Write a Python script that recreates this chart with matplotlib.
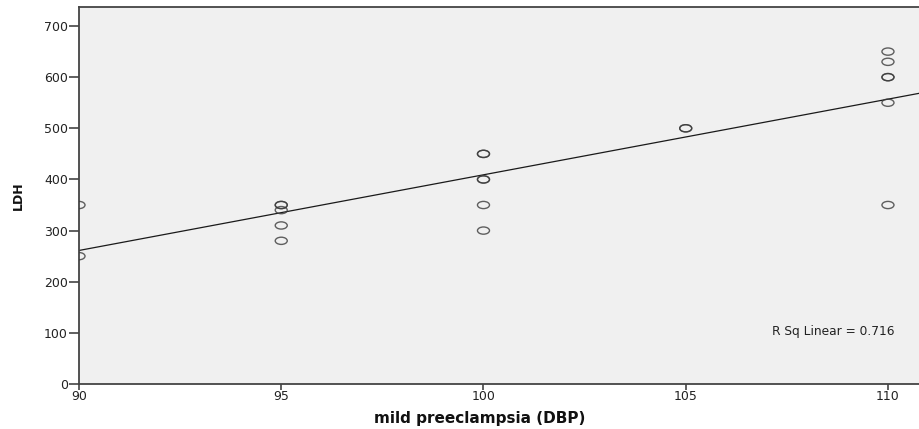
import numpy as np
import matplotlib
matplotlib.use("Agg")
import matplotlib.pyplot as plt
from matplotlib.path import Path
from matplotlib.transforms import Affine2D

# Data
dbp = [90, 90,
       95, 95, 95, 95, 95,
       100, 100, 100, 100, 100, 100,
       105, 105,
       110, 110, 110, 110, 110, 110]
ldh = [350, 250,
       350, 350, 340, 310, 280,
       450, 450, 400, 400, 350, 300,
       500, 500,
       650, 630, 600, 600, 550, 350]
x_ticks = [90, 95, 100, 105, 110]
y_ticks = [0, 100, 200, 300, 400, 500, 600, 700]
r2_text = "R Sq Linear = 0.716"
x_label = "mild preeclampsia (DBP)"
y_label = "LDH"

plt.rcParams['font.family'] = ['DejaVu Sans']

fig = plt.figure(figsize=(9.2, 4.29), dpi=100)
ax = fig.add_axes([79/920, 1-384/429, 1-79/920, (384-7)/429])
ax.set_facecolor('#F0F0F0')

# wide elliptical open-circle marker (the reference is stretched horizontally)
ell = Path.unit_circle().transformed(Affine2D().scale(1.0, 0.6))
ax.scatter(dbp, ldh, marker=ell, s=75, facecolors='none',
           edgecolors='#3a3a3a', linewidths=1.0, alpha=0.8, zorder=3)

# linear fit
x = np.array(dbp, dtype=float)
y = np.array(ldh, dtype=float)
b, a = np.polyfit(x, y, 1)
xl = np.array([90, 111])
ax.plot(xl, a + b * xl, color='#1a1a1a', lw=0.9, zorder=2)

ax.set_xlim(90, 110 + 32/40.4)
ax.set_ylim(0, 700 + 19/0.511)
ax.set_xticks(x_ticks)
ax.set_yticks(y_ticks)
ax.tick_params(axis='y', direction='out', length=7, width=1.2, color='#444444',
               labelsize=9, labelcolor='#222222', pad=1)
ax.tick_params(axis='x', direction='out', length=4, width=1.2, color='#444444',
               labelsize=9, labelcolor='#222222', pad=0.5)

for s in ['left', 'bottom', 'top']:
    ax.spines[s].set_color('#444444')
    ax.spines[s].set_linewidth(1.3)
ax.spines['right'].set_visible(False)

ax.text(0.970, 0.138, r2_text, transform=ax.transAxes, ha='right', va='center',
        fontsize=8.8, color='#222222')

ax.set_xlabel(x_label, fontsize=11, fontweight='bold', color='#111111', va='center')
ax.xaxis.set_label_coords((480 - 79) / 841, (384 - 418) / 377)
ax.set_ylabel(y_label, fontsize=9, fontweight='bold', color='#111111', labelpad=14)

fig.savefig('out.png', dpi=100)
